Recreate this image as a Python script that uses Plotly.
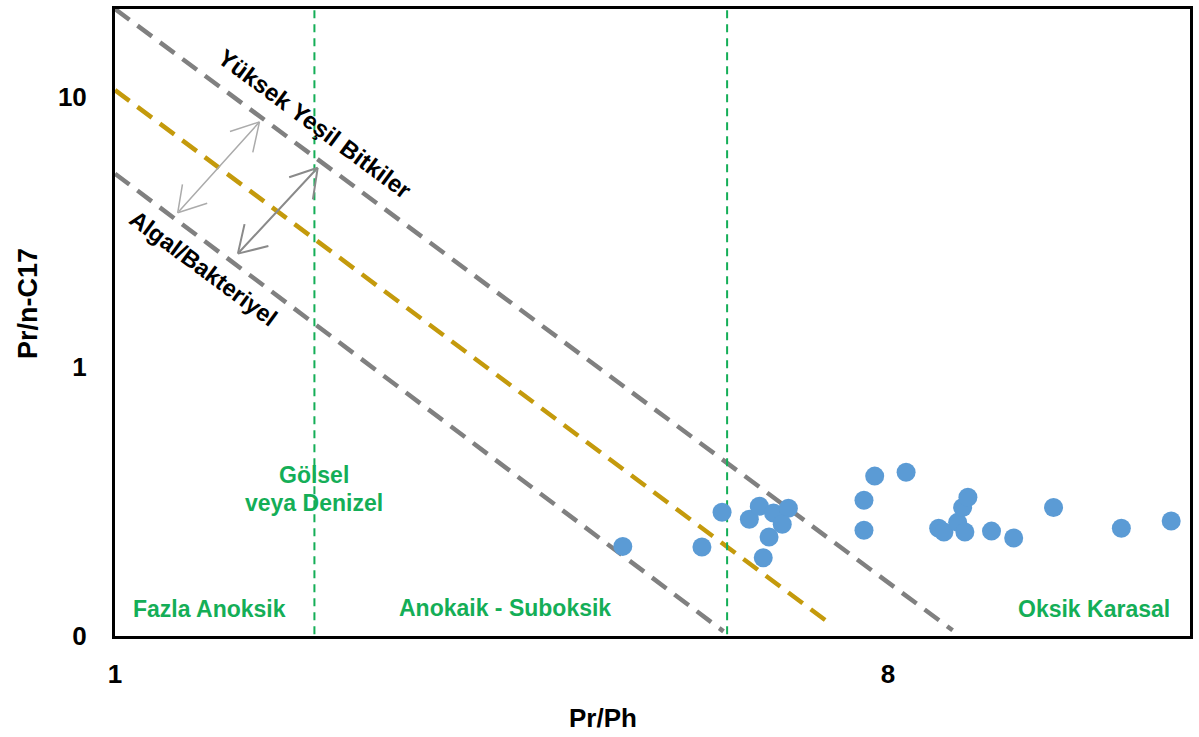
import math
import plotly.graph_objects as go

# ---------------- data ----------------
pr_ph = [3.92, 4.85, 5.12, 5.51, 5.66, 5.88, 6.12, 6.02, 5.81, 5.72,
         7.72, 8.40, 7.50, 7.50, 9.17, 9.30, 9.65, 9.84, 9.78, 9.92,
         10.57, 11.22, 12.49, 14.99, 17.14]
pr_nc17 = [0.215, 0.214, 0.288, 0.271, 0.303, 0.286, 0.298, 0.260, 0.233, 0.195,
           0.392, 0.405, 0.319, 0.247, 0.251, 0.243, 0.264, 0.243, 0.300, 0.327,
           0.245, 0.231, 0.300, 0.251, 0.267]

# diagonal source-type boundary lines (start / end points)
trend_names = ["Yüksek Yeşil Bitkiler", "Orta", "Algal/Bakteriyel"]
trend_x = [[1.0, 9.52], [1.0, 6.85], [1.0, 5.14]]
trend_y = [[21.2, 0.105], [10.6, 0.111], [5.19, 0.104]]
trend_colors = ["#808080", "#C49A0C", "#808080"]

# depositional-environment boundaries (Pr/Ph)
zone_bounds = [1.71, 5.19]

x_ticks = [1, 8]
x_ticktext = ["1", "8"]
y_ticks = [0.1, 1, 10]
y_ticktext = ["0", "1", "10"]

X_MAX = 18.03
Y_MAX = 21.2

lg = math.log10
GREEN = "#14AE57"
FONT = "Liberation Sans"

fig = go.Figure()

# diagonal dashed lines
for xs, ys, col, nm in zip(trend_x, trend_y, trend_colors, trend_names):
    fig.add_trace(go.Scatter(x=xs, y=ys, mode="lines", name=nm,
                             line=dict(color=col, width=4.5, dash="18px,10px"),
                             hoverinfo="skip", showlegend=False))

# vertical green dashed zone boundaries
for b in zone_bounds:
    fig.add_trace(go.Scatter(x=[b, b], y=[0.09, 25], mode="lines",
                             line=dict(color=GREEN, width=2, dash="8px,6px"),
                             hoverinfo="skip", showlegend=False))

# samples
fig.add_trace(go.Scatter(x=pr_ph, y=pr_nc17, mode="markers",
                         marker=dict(color="#5B9BD5", size=19, line=dict(width=0)),
                         showlegend=False))

annotations = []


def label(text, x, y, size=23, color=GREEN, angle=0):
    annotations.append(dict(x=lg(x), y=lg(y), xref="x", yref="y", text=text,
                            showarrow=False, textangle=angle,
                            xanchor="center", yanchor="middle",
                            font=dict(family=FONT, size=size, color=color, weight="bold")))


label("Fazla Anoksik", 1.29, 0.126)
label("Anokaik - Suboksik", 2.855, 0.127)
label("Oksik Karasal", 13.94, 0.126)
label("Gölsel", 1.71, 0.395)
label("veya Denizel", 1.71, 0.311)
label("Yüksek Yeşil Bitkiler", 1.71, 7.94, size=24, color="#000000", angle=36.5)
label("Algal/Bakteriyel", 1.266, 2.31, size=23.5, color="#000000", angle=36.5)

# axis titles (placed as in the reference, not centred on the plot)
annotations.append(dict(x=0.4536, y=-0.1306, xref="paper", yref="paper", text="Pr/Ph",
                        showarrow=False, xanchor="center", yanchor="middle",
                        font=dict(family=FONT, size=26, color="#000000", weight="bold")))
annotations.append(dict(x=-0.0816, y=0.530, xref="paper", yref="paper", text="Pr/n-C17",
                        showarrow=False, xanchor="center", yanchor="middle", textangle=-90,
                        font=dict(family=FONT, size=27, color="#000000", weight="bold")))

# double-headed arrows
PX_PER_DEC_X = 1078 / lg(X_MAX)
PX_PER_DEC_Y = 628 / (lg(Y_MAX) + 1)


def add_double_arrow(ux, uy, dx, dy, color, width, top_legs, bot_legs):
    annotations.append(dict(x=lg(ux), y=lg(uy), xref="x", yref="y", ax=dx, ay=dy,
                            axref="pixel", ayref="pixel", text="", showarrow=True,
                            arrowhead=0, arrowwidth=width, arrowcolor=color, standoff=0))
    for lx, ly in top_legs:
        annotations.append(dict(x=lg(ux), y=lg(uy), xref="x", yref="y", ax=lx, ay=ly,
                                text="", showarrow=True, arrowhead=0, arrowwidth=width,
                                arrowcolor=color, standoff=0))
    lx_data = lg(ux) + dx / PX_PER_DEC_X
    ly_data = lg(uy) - dy / PX_PER_DEC_Y
    for lx, ly in bot_legs:
        annotations.append(dict(x=lx_data, y=ly_data, xref="x", yref="y", ax=lx, ay=ly,
                                text="", showarrow=True, arrowhead=0, arrowwidth=width,
                                arrowcolor=color, standoff=0))


add_double_arrow(1.475, 8.08, -82, 91, "#ABABAB", 1.5,
                 [(-31, 10), (-7, 32)], [(31, -10), (5, -30)])
add_double_arrow(1.725, 5.46, -80, 86, "#8A8A8A", 2,
                 [(-30, 10), (-5, 33)], [(32, -8), (7, -31)])

fig.update_layout(
    width=1199, height=737,
    margin=dict(l=115, r=6, t=8, b=101),
    paper_bgcolor="white", plot_bgcolor="white",
    annotations=annotations,
    font=dict(family=FONT, color="#000000"),
    xaxis=dict(type="log", range=[0, lg(X_MAX)], tickvals=x_ticks, ticktext=x_ticktext,
               showgrid=False, zeroline=False, showline=True, mirror=True,
               linecolor="#000000", linewidth=3, ticks="", ticklabelstandoff=13,
               tickfont=dict(family=FONT, size=26, color="#000000", weight="bold")),
    yaxis=dict(type="log", range=[-1, lg(Y_MAX)], tickvals=y_ticks, ticktext=y_ticktext,
               showgrid=False, zeroline=False, showline=True, mirror=True,
               linecolor="#000000", linewidth=3, ticks="", ticklabelstandoff=20,
               tickfont=dict(family=FONT, size=26, color="#000000", weight="bold")),
)

fig.write_html("out.html")
